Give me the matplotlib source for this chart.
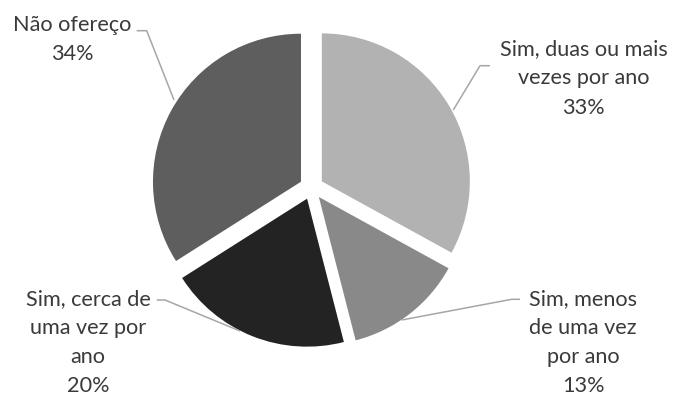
import matplotlib
matplotlib.use("Agg")
import matplotlib.pyplot as plt

# Survey answers, clockwise from 12 o'clock
categories = ["Sim, duas ou mais\nvezes por ano",
              "Sim, menos\nde uma vez\npor ano",
              "Sim, cerca de\numa vez por\nano",
              "Não ofereço"]
shares = [33, 13, 20, 34]
colors = ["#b2b2b2", "#898989", "#232323", "#5e5e5e"]

W, H = 678, 396
fig = plt.figure(figsize=(W / 100, H / 100), dpi=100)
ax = fig.add_axes([0, 0, 1, 1])

cx, cy, r = 311.5, H - 187.5, 148
ax.pie(shares, colors=colors, startangle=90, counterclock=False,
       center=(cx, cy), radius=r, explode=[12] * len(shares),
       wedgeprops=dict(linewidth=0), frame=True)
ax.set_xlim(0, W)
ax.set_ylim(0, H)
ax.set_aspect("equal")
ax.axis("off")

text_color = "#3a3a3a"
line_color = "#a6a6a6"
fs = 15.6
family = ["Lato", "DejaVu Sans"]
step = 29.0

# label anchor: (center x, first baseline y from top), leader polyline (pixels from top)
layout = [
    ((583.5, 55.5), [(490, 65.7), (480, 65.7), (453.3, 110)]),
    ((583.0, 304.8), [(520, 299.3), (511.7, 299.3), (401.7, 320)]),
    ((88.0, 304.8), [(156.7, 300), (165, 300), (240, 331)]),
    ((72.5, 31.2), [(136.7, 30.7), (146.7, 30.7), (174, 100)]),
]

for cat, val, ((tx, ty), pts) in zip(categories, shares, layout):
    lines = cat.split("\n") + [f"{val}%"]
    for i, ln in enumerate(lines):
        ax.text(tx, H - (ty + i * step), ln, ha="center", va="baseline",
                fontsize=fs, color=text_color, family=family)
    xs = [p[0] for p in pts]
    ys = [H - p[1] for p in pts]
    ax.plot(xs, ys, color=line_color, linewidth=1.1, solid_capstyle="butt")

fig.savefig("out.png", dpi=100, facecolor="white")
